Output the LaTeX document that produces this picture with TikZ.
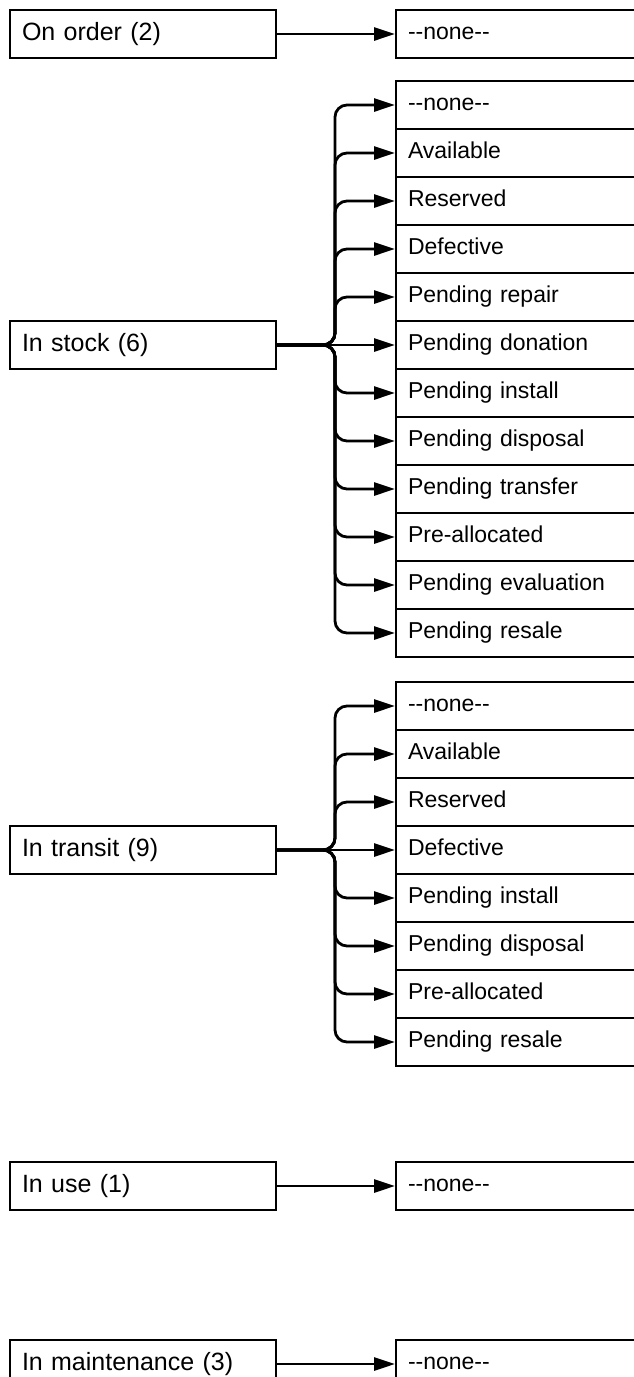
\documentclass[tikz,border=0pt]{standalone}
\usepackage{fontspec}
\setmainfont{Liberation Sans}
\usetikzlibrary{arrows.meta}

\tikzset{
  state/.style={draw, line width=2pt, anchor=west, minimum height=48pt, inner xsep=12pt,
    text width=242pt, align=left, text height=18pt, text depth=5pt,
    font=\fontsize{25}{28}\selectfont},
  substate/.style={draw, line width=2pt, anchor=west, minimum height=48pt, inner xsep=12pt,
    text width=215pt, align=left, text height=16pt, text depth=6pt,
    font=\fontsize{23}{26}\selectfont},
  link/.style={line width=2.8pt, rounded corners=12pt, -{Triangle[length=21pt,width=13pt]}},
}

\begin{document}
\begin{tikzpicture}[x=1pt, y=-1pt]

\useasboundingbox (0,0) rectangle (634,1377);
\clip (0,0) rectangle (634,1377);

% left column
\node (order)[state] at (9, 34) {On order (2)};
\node (stock)[state] at (9, 345) {In stock (6)};
\node (transit)[state] at (9, 850) {In transit (9)};
\node (use)[state] at (9, 1186) {In use (1)};
\node (maint)[state] at (9, 1364) {In maintenance (3)};

% on order
\node (o1)[substate] at (395, 34) {-{}-none-{}-};

% in stock
\node (s1)[substate] at (395, 105) {-{}-none-{}-};
\node (s2)[substate] at (395, 153) {Available};
\node (s3)[substate] at (395, 201) {Reserved};
\node (s4)[substate] at (395, 249) {Defective};
\node (s5)[substate] at (395, 297) {Pending repair};
\node (s6)[substate] at (395, 345) {Pending donation};
\node (s7)[substate] at (395, 393) {Pending install};
\node (s8)[substate] at (395, 441) {Pending disposal};
\node (s9)[substate] at (395, 489) {Pending transfer};
\node (s10)[substate] at (395, 537) {Pre-allocated};
\node (s11)[substate] at (395, 585) {Pending evaluation};
\node (s12)[substate] at (395, 633) {Pending resale};

% in transit
\node (t1)[substate] at (395, 706) {-{}-none-{}-};
\node (t2)[substate] at (395, 754) {Available};
\node (t3)[substate] at (395, 802) {Reserved};
\node (t4)[substate] at (395, 850) {Defective};
\node (t5)[substate] at (395, 898) {Pending install};
\node (t6)[substate] at (395, 946) {Pending disposal};
\node (t7)[substate] at (395, 994) {Pre-allocated};
\node (t8)[substate] at (395, 1042) {Pending resale};

% in use, in maintenance
\node (u1)[substate] at (395, 1186) {-{}-none-{}-};
\node (m1)[substate] at (395, 1364) {-{}-none-{}-};

\coordinate (sfork) at (335, 345);
\coordinate (tfork) at (335, 850);

\draw[link] (order) -- (o1);

\draw[link] (stock.east) -- (sfork) |- (s1.west);
\draw[link] (stock.east) -- (sfork) |- (s2.west);
\draw[link] (stock.east) -- (sfork) |- (s3.west);
\draw[link] (stock.east) -- (sfork) |- (s4.west);
\draw[link] (stock.east) -- (sfork) |- (s5.west);
\draw[link] (stock.east) -- (s6.west);
\draw[link] (stock.east) -- (sfork) |- (s7.west);
\draw[link] (stock.east) -- (sfork) |- (s8.west);
\draw[link] (stock.east) -- (sfork) |- (s9.west);
\draw[link] (stock.east) -- (sfork) |- (s10.west);
\draw[link] (stock.east) -- (sfork) |- (s11.west);
\draw[link] (stock.east) -- (sfork) |- (s12.west);

\draw[link] (transit.east) -- (tfork) |- (t1.west);
\draw[link] (transit.east) -- (tfork) |- (t2.west);
\draw[link] (transit.east) -- (tfork) |- (t3.west);
\draw[link] (transit.east) -- (t4.west);
\draw[link] (transit.east) -- (tfork) |- (t5.west);
\draw[link] (transit.east) -- (tfork) |- (t6.west);
\draw[link] (transit.east) -- (tfork) |- (t7.west);
\draw[link] (transit.east) -- (tfork) |- (t8.west);

\draw[link] (use) -- (u1);
\draw[link] (maint) -- (m1);

\end{tikzpicture}
\end{document}
